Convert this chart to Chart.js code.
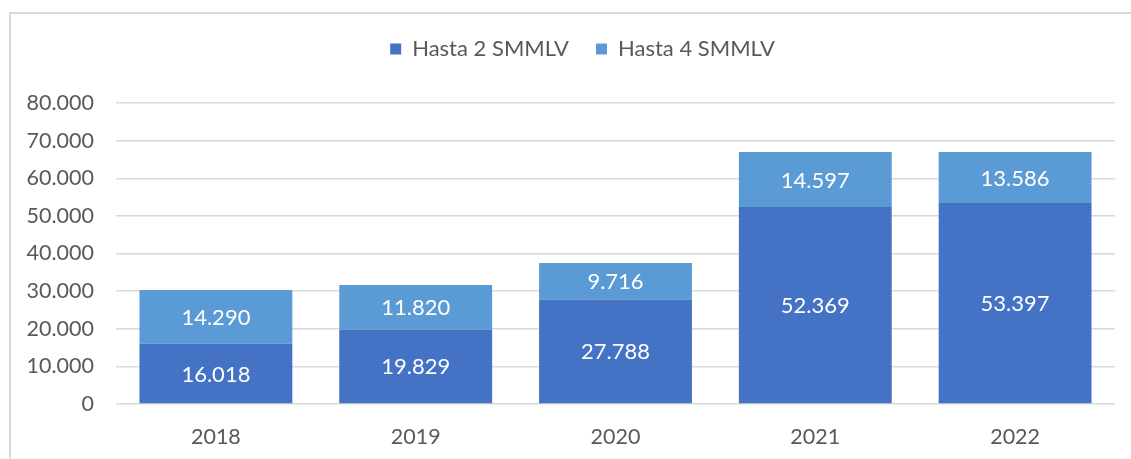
<!DOCTYPE html>
<html>
<head>
<meta charset="utf-8">
<script src="https://cdn.jsdelivr.net/npm/chart.js@4/dist/chart.umd.min.js"></script>
<style>
  body { margin: 0; background: #fff; }
  #wrap { position: relative; width: 1131px; height: 459px; overflow: hidden; }
  #frame { position: absolute; left: 9px; top: 12px; width: 1140px; height: 470px; border-left: 2px solid #d9d9d9; border-top: 2px solid #d9d9d9; }
  #chart { position: absolute; left: 0; top: 0; }
</style>
</head>
<body>
<div id="wrap">
  <div id="frame"></div>
  <canvas id="chart" width="1131" height="459"></canvas>
</div>
<script>
// values
const years = ['2018', '2019', '2020', '2021', '2022'];
const hasta2 = [16018, 19829, 27788, 52369, 53397];
const hasta4 = [14290, 11820, 9716, 14597, 13586];
const seriesNames = ['Hasta 2 SMMLV', 'Hasta 4 SMMLV'];

const fontFamily = 'Lato, "Open Sans", sans-serif';

function fmt(v) {
    return String(v).replace(/\B(?=(\d{3})+(?!\d))/g, '.');
}

// white value labels centred in each segment
const valueLabels = {
    id: 'valueLabels',
    afterDatasetsDraw(chart) {
        const ctx = chart.ctx;
        ctx.save();
        ctx.fillStyle = '#ffffff';
        ctx.font = '22px ' + fontFamily;
        ctx.textAlign = 'center';
        ctx.textBaseline = 'middle';
        chart.data.datasets.forEach((ds, i) => {
            chart.getDatasetMeta(i).data.forEach((bar, j) => {
                const p = bar.getCenterPoint();
                ctx.fillText(fmt(ds.data[j]), p.x, p.y + 1);
            });
        });
        ctx.restore();
    }
};

// extra room under the legend, and nudge it right like the original
const legendGap = {
    id: 'legendGap',
    beforeInit(chart) {
        const fit = chart.legend.fit;
        chart.legend.fit = function() {
            fit.bind(chart.legend)();
            this.height += 33;
        };
    },
    afterLayout(chart) {
        chart.legend.left += 25;
        chart.legend.right += 25;
    }
};

new Chart(document.getElementById('chart').getContext('2d'), {
    type: 'bar',
    data: {
        labels: years,
        datasets: [
            { label: seriesNames[0], data: hasta2, backgroundColor: '#4472c4', borderWidth: 0 },
            { label: seriesNames[1], data: hasta4, backgroundColor: '#5b9bd5', borderWidth: 0 }
        ]
    },
    options: {
        responsive: false,
        animation: false,
        layout: { padding: { top: 11, right: 16, bottom: 0, left: 0 } },
        datasets: { bar: { categoryPercentage: 1, barPercentage: 0.765 } },
        plugins: {
            legend: {
                position: 'top',
                labels: {
                    boxWidth: 11, boxHeight: 11, padding: 27,
                    color: '#595959',
                    font: { family: fontFamily, size: 22 }
                }
            },
            tooltip: { enabled: false }
        },
        scales: {
            x: {
                stacked: true,
                afterFit(scale) { scale.height = 55; },
                grid: { display: false, drawTicks: false },
                border: { display: false },
                ticks: { color: '#595959', padding: 20, font: { family: fontFamily, size: 21.5 } }
            },
            y: {
                stacked: true,
                min: 0, max: 80000,
                afterFit(scale) { scale.width = 116; },
                grid: { color: '#d9d9d9', lineWidth: 1.5, drawTicks: false },
                border: { display: false },
                ticks: {
                    stepSize: 10000, padding: 22, color: '#595959',
                    font: { family: fontFamily, size: 21.5 },
                    callback: v => fmt(v)
                }
            }
        }
    },
    plugins: [valueLabels, legendGap]
});
</script>
</body>
</html>
